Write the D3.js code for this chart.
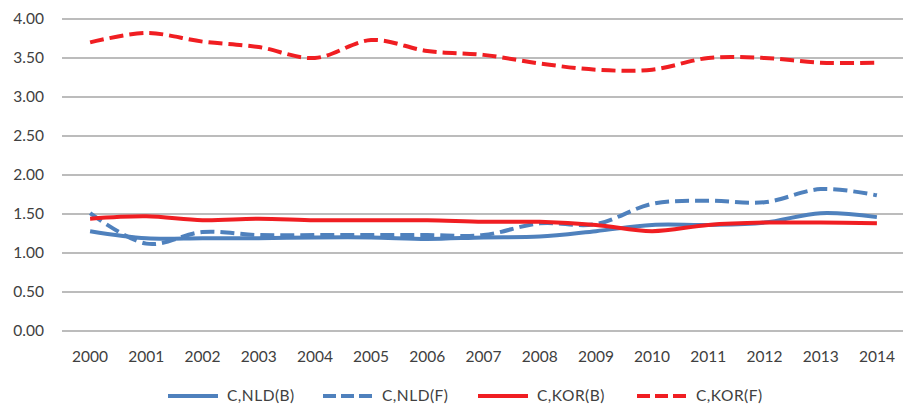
<!DOCTYPE html>
<html><head><meta charset="utf-8">
<script src="https://cdn.jsdelivr.net/npm/d3@7"></script>
<style>body{margin:0;background:#fff}svg{display:block}</style>
</head><body><svg id="c" width="903" height="408"></svg>
<script>
const years = ["2000","2001","2002","2003","2004","2005","2006","2007","2008","2009","2010","2011","2012","2013","2014"];
const nldB = [1.28,1.19,1.19,1.19,1.20,1.20,1.18,1.20,1.21,1.28,1.36,1.36,1.39,1.51,1.46];
const nldF = [1.51,1.12,1.27,1.23,1.23,1.23,1.23,1.23,1.38,1.37,1.63,1.67,1.65,1.82,1.74];
const korB = [1.44,1.47,1.42,1.44,1.42,1.42,1.42,1.40,1.40,1.36,1.28,1.36,1.39,1.39,1.38];
const korF = [3.70,3.82,3.71,3.64,3.50,3.73,3.59,3.54,3.43,3.35,3.35,3.50,3.50,3.44,3.44];
const yTicks = [0,0.5,1,1.5,2,2.5,3,3.5,4];
const seriesNames = ["C,NLD(B)","C,NLD(F)","C,KOR(B)","C,KOR(F)"];

const BLUE="#4f81bd", RED="#f01e22";
const series = [
  {name:seriesNames[0], vals:nldB, color:BLUE, dash:null},
  {name:seriesNames[1], vals:nldF, color:BLUE, dash:"14,6"},
  {name:seriesNames[2], vals:korB, color:RED, dash:null},
  {name:seriesNames[3], vals:korF, color:RED, dash:"14,6"}
];

const svg = d3.select("#c");
const x = d3.scaleBand().domain(years).range([62,905]).padding(0);
const y = d3.scaleLinear().domain([0,4]).range([331,19]);
const font = "Lato, 'Open Sans', sans-serif";
const tc = "#404040";

// gridlines
svg.append("g").selectAll("line").data(yTicks).join("line")
  .attr("x1",62).attr("x2",903)
  .attr("y1",d=>y(d)).attr("y2",d=>y(d))
  .attr("stroke","#a6a6a6").attr("stroke-width",1.5);

// y axis
const ya = svg.append("g").attr("transform","translate(62,0)")
  .call(d3.axisLeft(y).tickValues(yTicks).tickFormat(d3.format(".2f")).tickSize(0).tickPadding(18));
ya.select(".domain").remove();
ya.selectAll("text").attr("font-family",font).attr("font-size","15.5px").attr("fill",tc);

// x axis
const xa = svg.append("g").attr("transform","translate(0,331)")
  .call(d3.axisBottom(x).tickSize(0).tickPadding(20));
xa.select(".domain").remove();
xa.selectAll("text").attr("font-family",font).attr("font-size","15.5px").attr("fill",tc);

const line = d3.line()
  .x((d,i)=>x(years[i])+x.bandwidth()/2)
  .y(d=>y(d))
  .curve(d3.curveCatmullRom.alpha(0));

svg.append("g").selectAll("path").data(series).join("path")
  .attr("d",d=>line(d.vals))
  .attr("fill","none")
  .attr("stroke",d=>d.color)
  .attr("stroke-width",4)
  .attr("stroke-dasharray",d=>d.dash)
  .attr("stroke-linejoin","round");

// legend
const legX = [168,323,478,637];
const lg = svg.append("g").selectAll("g").data(series).join("g")
  .attr("transform",(d,i)=>`translate(${legX[i]},396)`);
lg.append("line").attr("x1",0).attr("x2",50).attr("y1",0).attr("y2",0)
  .attr("stroke",d=>d.color).attr("stroke-width",4).attr("stroke-dasharray",d=>d.dash?"13,5":null);
lg.append("text").attr("x",59).attr("y",0).attr("dy","0.35em")
  .attr("font-family",font).attr("font-size","15.5px").attr("fill",tc)
  .attr("letter-spacing","0.5px")
  .text(d=>d.name);
</script></body></html>
